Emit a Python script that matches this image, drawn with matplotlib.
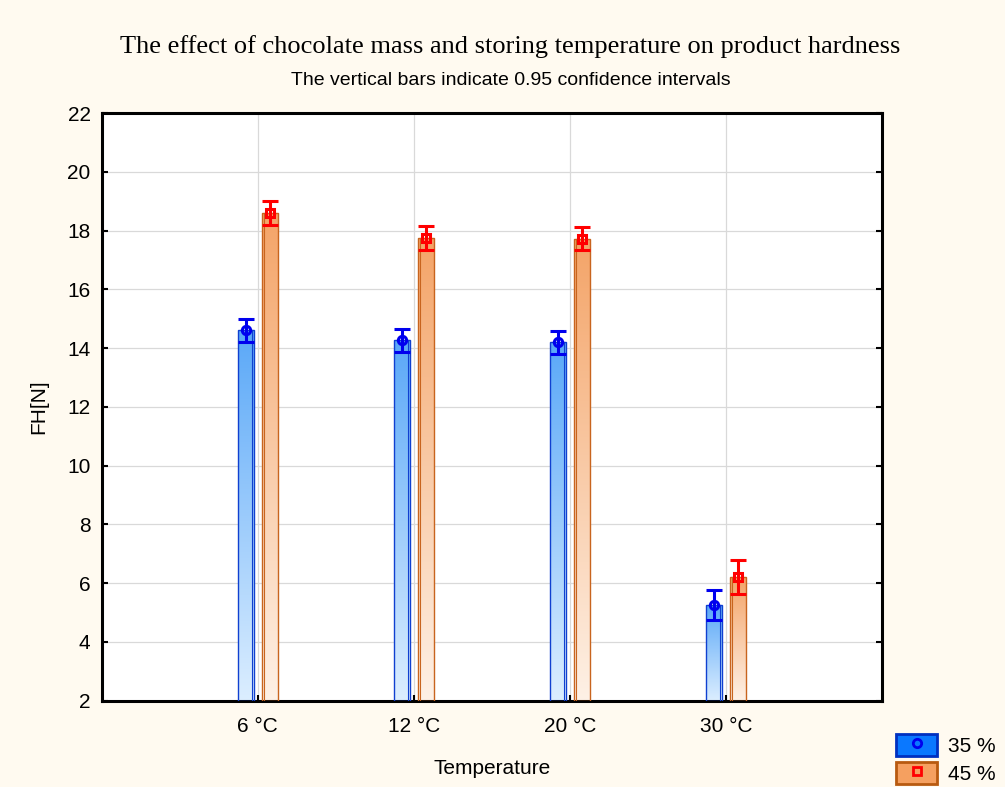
import matplotlib
matplotlib.use("Agg")
import matplotlib.pyplot as plt
import numpy as np
from matplotlib.patches import Patch
from matplotlib.lines import Line2D
from matplotlib.colors import LinearSegmentedColormap

categories = ['6 °C', '12 °C', '20 °C', '30 °C']
mean35 = [14.60, 14.27, 14.20, 5.25]
ci35 = [0.40, 0.39, 0.39, 0.50]
mean45 = [18.60, 17.75, 17.72, 6.20]
ci45 = [0.42, 0.41, 0.39, 0.58]
series_labels = ['35 %', '45 %']
yticks = [2, 4, 6, 8, 10, 12, 14, 16, 18, 20, 22]

BG = '#FFFAF0'
fig = plt.figure(figsize=(10.05, 7.87), dpi=100, facecolor=BG)
ax = fig.add_axes([0.1012, 0.1097, 0.7764, 0.7467])
ax.set_facecolor('white')

x = np.arange(1, len(categories) + 1)
off = 0.077
w = 0.103
ax.set_xlim(0, 5)
ax.set_ylim(2, 22)

cmap_b = LinearSegmentedColormap.from_list('b', ['#DCEEFF', '#5AA8F8'])
cmap_o = LinearSegmentedColormap.from_list('o', ['#FEF1E6', '#F4A468'])
grad = np.linspace(0, 1, 256).reshape(-1, 1)

def gbar(xc, val, cmap, edge, inner_x):
    x0, x1 = xc - w / 2, xc + w / 2
    ax.imshow(grad, extent=(x0, x1, 2, val), origin='lower', aspect='auto',
              cmap=cmap, zorder=2, vmin=0, vmax=1)
    ax.bar(xc, val - 2, bottom=2, width=w, fill=False, edgecolor=edge,
           linewidth=1.0, zorder=3)
    ax.plot([inner_x, inner_x], [2, val], color=edge, lw=0.8, zorder=3)

for i in range(len(categories)):
    gbar(x[i] - off, mean35[i], cmap_b, '#1040D0', x[i] - off + w / 2 - 0.012)
    gbar(x[i] + off, mean45[i], cmap_o, '#C8641E', x[i] + off - w / 2 + 0.015)

ax.errorbar(x - off, mean35, yerr=ci35, fmt='o', color='#0000EE', mfc='none',
            mec='#0000EE', ms=6, mew=2.2, elinewidth=2.2, capsize=5.5, capthick=2.2, zorder=5)
ax.errorbar(x + off, mean45, yerr=ci45, fmt='s', color='#FF0000', mfc='none',
            mec='#FF0000', ms=6, mew=2.2, elinewidth=2.2, capsize=5.5, capthick=2.2, zorder=5)

ax.set_xticks(x)
ax.set_xticklabels(categories)
ax.set_yticks(yticks)
ax.grid(True, color='#D9D9D9', linewidth=0.9, zorder=0)
ax.set_axisbelow(True)
ax.tick_params(direction='in', length=4, width=1.5, labelsize=15, pad=8,
               right=True, left=True, top=False, bottom=True)
ax.tick_params(axis='x', pad=12)
for lab in ax.get_xticklabels() + ax.get_yticklabels():
    lab.set_fontfamily('Liberation Sans')
for s in ax.spines.values():
    s.set_linewidth(2.2)
    s.set_color('black')

ax.set_ylabel('FH[N]', fontsize=15, family='Liberation Sans', labelpad=14)
ax.set_xlabel('Temperature', fontsize=15, family='Liberation Sans', labelpad=16)

fig.text(0.508, 0.941, 'The effect of chocolate mass and storing temperature on product hardness',
         ha='center', va='center', fontsize=19, family='Liberation Serif')
fig.text(0.508, 0.898, 'The vertical bars indicate 0.95 confidence intervals',
         ha='center', va='center', fontsize=14, family='Liberation Sans')

h1 = (Patch(facecolor='#0A78FF', edgecolor='#0030C0', linewidth=2),
      Line2D([], [], marker='o', ls='none', mfc='none', mec='#0000EE', mew=2, ms=6))
h2 = (Patch(facecolor='#F5A060', edgecolor='#B85A10', linewidth=2),
      Line2D([], [], marker='s', ls='none', mfc='none', mec='#FF0000', mew=2, ms=6))
leg = fig.legend([h1, h2], series_labels, loc='lower right', bbox_to_anchor=(1.003, -0.012),
                 frameon=False, handlelength=2.0, handleheight=1.2,
                 labelspacing=0.3, handletextpad=0.5, borderaxespad=0.2,
                 prop={'family': 'Liberation Sans', 'size': 15})

fig.savefig('out.png', dpi=100, facecolor=BG)
